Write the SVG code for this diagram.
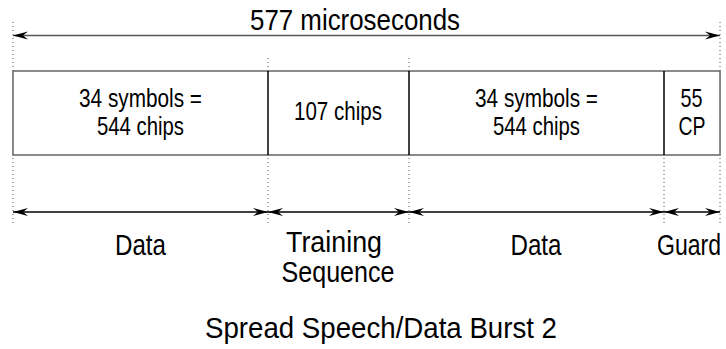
<svg xmlns="http://www.w3.org/2000/svg" width="726" height="349" viewBox="0 0 726 349">
<defs>
<style>
text{font-family:"Liberation Sans",Arial,sans-serif;fill:#000;text-anchor:middle}
.lbl{font-size:30px}
.box{font-size:25px}
.dot{stroke:#555;stroke-width:1;stroke-dasharray:1 3;fill:none}
.frame{stroke:#666;stroke-width:1.5;fill:#fff}
.div{stroke:#000;stroke-width:1.5}
.dim{stroke:#000;stroke-width:1.3;fill:none;marker-start:url(#as);marker-end:url(#ae)}
.dimtop{stroke:#555;stroke-width:1.3;fill:none;marker-start:url(#as);marker-end:url(#ae)}
</style>
<marker id="ae" markerUnits="userSpaceOnUse" markerWidth="16" markerHeight="10" viewBox="-15 -5 16 10" refX="0" refY="0" orient="auto">
<path d="M0,0 L-15,-4 L-10,0 L-15,4 Z" fill="#000"/>
</marker>
<marker id="as" markerUnits="userSpaceOnUse" markerWidth="16" markerHeight="10" viewBox="-1 -5 16 10" refX="0" refY="0" orient="auto">
<path d="M0,0 L15,-4 L10,0 L15,4 Z" fill="#000"/>
</marker>
</defs>
<g id="guides">
<line class="dot" x1="13" y1="22" x2="13" y2="226"/>
<line class="dot" x1="720" y1="22" x2="720" y2="226"/>
<line class="dot" x1="268" y1="58" x2="268" y2="226"/>
<line class="dot" x1="409" y1="58" x2="409" y2="226"/>
<line class="dot" x1="664" y1="158" x2="664" y2="226"/>
</g>
<g id="frame">
<rect class="frame" x="13" y="71" width="707" height="84"/>
</g>
<g id="seg-data1"><text class="box" x="140.5" y="107" textLength="123" lengthAdjust="spacingAndGlyphs">34 symbols =</text><text class="box" x="140.5" y="135" textLength="87" lengthAdjust="spacingAndGlyphs">544 chips</text></g>
<line class="div" x1="268" y1="71" x2="268" y2="155"/>
<g id="seg-train"><text class="box" x="338" y="120" textLength="88" lengthAdjust="spacingAndGlyphs">107 chips</text></g>
<line class="div" x1="409" y1="71" x2="409" y2="155"/>
<g id="seg-data2"><text class="box" x="536.5" y="107" textLength="123" lengthAdjust="spacingAndGlyphs">34 symbols =</text><text class="box" x="536.5" y="135" textLength="87" lengthAdjust="spacingAndGlyphs">544 chips</text></g>
<line class="div" x1="664" y1="71" x2="664" y2="155"/>
<g id="seg-guard"><text class="box" x="691.5" y="107" textLength="22" lengthAdjust="spacingAndGlyphs">55</text><text class="box" x="692" y="135" textLength="27" lengthAdjust="spacingAndGlyphs">CP</text></g>
<g id="connectors">
<line class="dimtop" x1="13" y1="35.5" x2="720" y2="35.5"/>
<line class="dim" x1="13" y1="212" x2="268" y2="212"/>
<line class="dim" x1="268" y1="212" x2="409" y2="212"/>
<line class="dim" x1="409" y1="212" x2="664" y2="212"/>
<line class="dim" x1="664" y1="212" x2="720" y2="212"/>
</g>
<g id="labels">
<text class="lbl" x="355" y="30" textLength="210" lengthAdjust="spacingAndGlyphs">577 microseconds</text>
<text class="lbl" x="140.5" y="255" textLength="51" lengthAdjust="spacingAndGlyphs">Data</text>
<text class="lbl" x="334" y="252" textLength="96" lengthAdjust="spacingAndGlyphs">Training</text>
<text class="lbl" x="338" y="282" textLength="113" lengthAdjust="spacingAndGlyphs">Sequence</text>
<text class="lbl" x="536" y="255" textLength="51" lengthAdjust="spacingAndGlyphs">Data</text>
<text class="lbl" x="689" y="255" textLength="64" lengthAdjust="spacingAndGlyphs">Guard</text>
<text class="lbl" x="381" y="338" textLength="352" lengthAdjust="spacingAndGlyphs">Spread Speech/Data Burst 2</text>
</g>
</svg>
